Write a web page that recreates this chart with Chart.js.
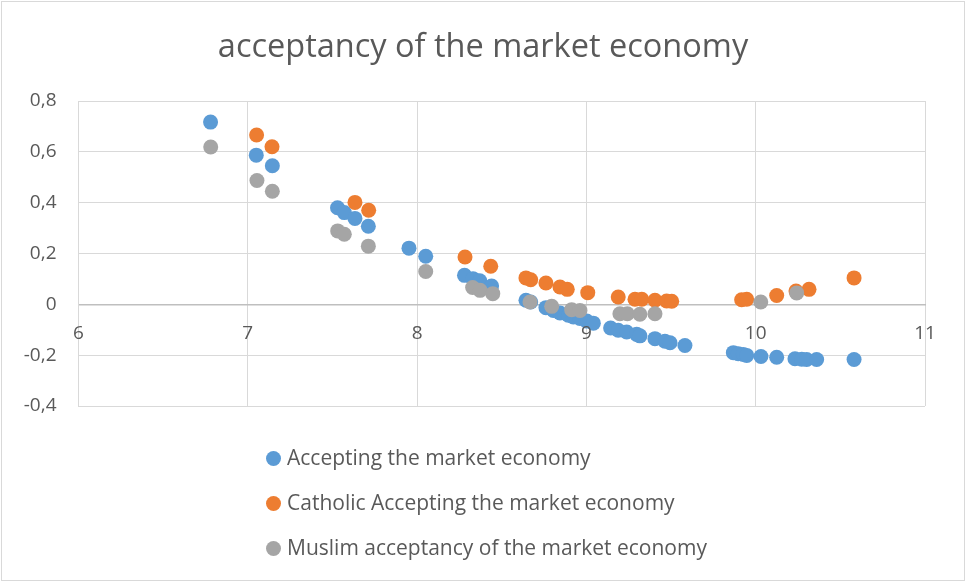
<!DOCTYPE html>
<html>
<head>
<meta charset="utf-8">
<script src="https://cdn.jsdelivr.net/npm/chart.js@4.4.1/dist/chart.umd.min.js"></script>
<style>
    body { margin: 0; background: #fff; }
    #wrap { position: relative; width: 966px; height: 582px; }
    #frame { position: absolute; left: 1px; top: 1px; width: 962px; height: 578px; border: 1px solid #d9d9d9; pointer-events: none; }
    #legend { position: absolute; left: 266px; top: 443px; font-family: "Open Sans", sans-serif; font-size: 21px; color: #595959; }
    .item { height: 45px; line-height: 28px; white-space: nowrap; }
    .dot { display: inline-block; width: 15px; height: 15px; border-radius: 50%; margin-right: 6px; vertical-align: -1px; }
</style>
</head>
<body>
<div id="wrap">
    <canvas id="chart" width="966" height="582"></canvas>
    <div id="legend"></div>
    <div id="frame"></div>
</div>
<script>
const seriesNames = ['Accepting the market economy', 'Catholic Accepting the market economy', 'Muslim acceptancy of the market economy'];
const seriesColors = ['#5b9bd5', '#ed7d31', '#a5a5a5'];
const xTicks = [6, 7, 8, 9, 10, 11];
const yTicks = [-0.4, -0.2, 0, 0.2, 0.4, 0.6, 0.8];

const allX = [6.78, 7.05, 7.145, 7.53, 7.57, 7.633, 7.712, 7.952, 8.051, 8.28, 8.33, 8.37, 8.44,
    8.643, 8.671, 8.761, 8.805, 8.844, 8.893, 8.923, 8.962, 9.002, 9.041, 9.143, 9.188, 9.238,
    9.297, 9.316, 9.405, 9.464, 9.494, 9.582, 9.868, 9.897, 9.927, 9.947, 10.031, 10.124, 10.232,
    10.272, 10.301, 10.36, 10.581];
const allY = [0.717, 0.587, 0.545, 0.380, 0.361, 0.338, 0.307, 0.221, 0.189, 0.114, 0.101, 0.093, 0.072,
    0.016, 0.009, -0.013, -0.024, -0.034, -0.043, -0.050, -0.056, -0.066, -0.074, -0.093, -0.102, -0.109,
    -0.118, -0.124, -0.135, -0.145, -0.151, -0.162, -0.190, -0.194, -0.197, -0.201, -0.205, -0.208, -0.214,
    -0.216, -0.217, -0.217, -0.217];

const catholicX = [7.052, 7.143, 7.633, 7.714, 8.283, 8.435, 8.643, 8.671, 8.761, 8.844, 8.887, 9.008,
    9.188, 9.287, 9.327, 9.405, 9.474, 9.504, 9.917, 9.947, 10.124, 10.238, 10.315, 10.581];
const catholicY = [0.666, 0.620, 0.401, 0.370, 0.186, 0.150, 0.104, 0.097, 0.084, 0.068, 0.059, 0.046,
    0.029, 0.020, 0.020, 0.016, 0.013, 0.012, 0.018, 0.020, 0.035, 0.052, 0.059, 0.104];

const muslimX = [6.781, 7.054, 7.145, 7.531, 7.570, 7.712, 8.051, 8.328, 8.372, 8.447, 8.667, 8.795,
    8.913, 8.962, 9.198, 9.242, 9.316, 9.405, 10.030, 10.242];
const muslimY = [0.619, 0.487, 0.445, 0.289, 0.276, 0.229, 0.129, 0.066, 0.055, 0.042, 0.009, -0.008,
    -0.021, -0.024, -0.037, -0.037, -0.039, -0.037, 0.009, 0.045];

const toPoints = (xs, ys) => xs.map((x, i) => ({x, y: ys[i]}));
const pointSets = [toPoints(allX, allY), toPoints(catholicX, catholicY), toPoints(muslimX, muslimY)];

const boot = () => {
    const legend = document.getElementById('legend');
    seriesNames.forEach((name, i) => {
        legend.innerHTML += `<div class="item"><span class="dot" style="background:${seriesColors[i]}"></span>${name}</div>`;
    });

    const fmt = v => {
        const r = Math.round(v * 10) / 10;
        return r === 0 ? '0' : r.toFixed(1).replace('.', ',');
    };

    new Chart(document.getElementById('chart'), {
        type: 'scatter',
        data: {
            datasets: pointSets.map((pts, i) => ({
                label: seriesNames[i],
                data: pts,
                backgroundColor: seriesColors[i],
                borderColor: seriesColors[i],
                borderWidth: 0,
                pointRadius: 7.5,
                pointHoverRadius: 7.5,
                order: 3 - i,
            }))
        },
        options: {
            responsive: false,
            animation: false,
            layout: {padding: {left: 0, right: 0, top: 0, bottom: 176}},
            plugins: {
                legend: {display: false},
                tooltip: {enabled: false},
                title: {
                    display: true,
                    text: 'acceptancy of the market economy',
                    color: '#595959',
                    font: {family: '"Open Sans", sans-serif', size: 32.5, weight: 'normal', lineHeight: 1.2},
                    padding: {top: 28, bottom: 34}
                }
            },
            scales: {
                x: {
                    type: 'linear',
                    position: {y: 0},
                    min: 6,
                    max: 11,
                    afterBuildTicks: s => { s.ticks = xTicks.map(v => ({value: v})); },
                    ticks: {
                        color: '#595959',
                        font: {family: '"Open Sans", sans-serif', size: 19},
                        padding: 18,
                        maxRotation: 0,
                        autoSkip: false,
                        z: 1,
                    },
                    grid: {color: '#d9d9d9', drawTicks: false},
                    border: {color: '#bfbfbf', width: 1.5},
                },
                y: {
                    min: -0.4,
                    max: 0.8,
                    afterBuildTicks: s => { s.ticks = yTicks.map(v => ({value: v})); },
                    afterFit: s => { s.width = 78.5; },
                    ticks: {
                        color: '#595959',
                        font: {family: '"Open Sans", sans-serif', size: 19},
                        padding: 22,
                        callback: v => fmt(v),
                    },
                    grid: {color: '#d9d9d9', drawTicks: false},
                    border: {color: '#d9d9d9'},
                },
                // empty right margin so the title stays centred on the whole canvas
                yRight: {
                    position: 'right',
                    min: -0.4,
                    max: 0.8,
                    afterFit: s => { s.width = 41; },
                    ticks: {display: false},
                    grid: {display: false, drawTicks: false},
                    border: {display: false},
                }
            }
        }
    });
};

window.addEventListener('DOMContentLoaded', boot);
</script>
</body>
</html>
